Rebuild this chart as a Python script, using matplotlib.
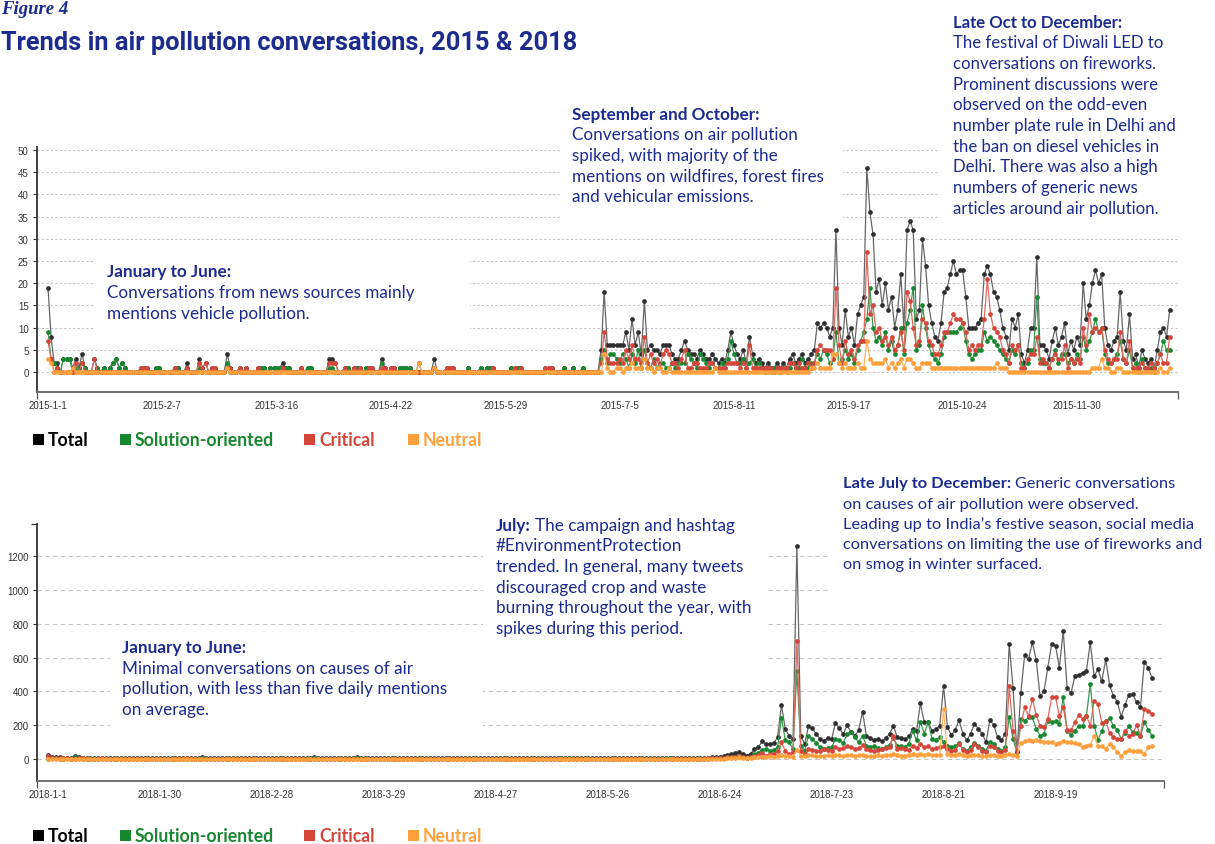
import pandas as pd
import matplotlib
matplotlib.use('Agg')
import matplotlib.pyplot as plt
from matplotlib.patches import Rectangle

W, H = 1215, 845
NAVY = '#1b2b8e'
BODY_FONT = 'Lato'

# ---------------- 2015 daily mentions (from 2015-01-01) ----------------
total_2015 = [
    19, 8, 2, 2, 0, 3, 3, 3, 1, 3, 1, 4, 1, 0, 0, 3, 1, 0, 1, 0, 1, 2, 3, 1, 2, 1, 0, 0, 0, 0,
    1, 1, 1, 0, 0, 1, 1, 0, 0, 0, 0, 1, 1, 0, 0, 2, 0, 0, 0, 3, 1, 2, 0, 1, 1, 0, 0, 0, 4, 1,
    0, 0, 1, 0, 1, 0, 0, 0, 1, 1, 1, 0, 1, 1, 1, 1, 2, 1, 1, 0, 0, 0, 1, 0, 1, 1, 0, 0, 0, 0,
    0, 3, 3, 2, 0, 0, 1, 1, 0, 1, 1, 1, 0, 1, 1, 1, 0, 0, 3, 1, 0, 1, 1, 0, 1, 1, 1, 1, 0, 0,
    2, 0, 0, 0, 0, 3, 0, 0, 0, 1, 1, 1, 0, 0, 0, 0, 1, 0, 0, 0, 1, 0, 1, 1, 1, 0, 0, 0, 0, 0,
    1, 1, 1, 1, 0, 0, 0, 0, 0, 0, 0, 1, 1, 1, 0, 0, 0, 1, 0, 0, 1, 0, 0, 1, 0, 0, 0, 0, 0,
    5, 18, 6, 6, 6, 6, 6, 6, 9, 5,
    12, 6, 9, 4, 16, 5, 6, 5, 5, 4,
    6, 6, 6, 4, 3, 3, 5, 7, 5, 4,
    4, 3, 5, 4, 3, 3, 4, 3, 2, 3,
    2, 5, 9, 6, 4, 3, 5, 2, 8, 4,
    2, 3, 2, 1, 2, 1, 1, 2, 1, 2,
    1, 3, 4, 2, 3, 4, 2, 3, 4, 5,
    11, 10, 11, 10, 8, 10, 32, 10, 6, 14,
    8, 10, 6, 13, 15, 17, 46, 36, 31, 18,
    21, 15, 20, 14, 17, 10, 14, 22, 10, 32,
    34, 32, 12, 14, 30, 24, 15, 11, 8, 7,
    11, 18, 19, 22, 25, 22, 23, 23, 17, 10,
    10, 10, 11, 12, 22, 24, 22, 18, 17, 14,
    10, 8, 5, 12, 10, 13, 4, 2, 5, 10,
    10, 26, 6, 6, 5, 3, 7, 10, 6, 8,
    11, 4, 7, 5, 8, 6, 20, 12, 15, 20,
    23, 20, 22, 10, 6, 5, 7, 8, 18, 7,
    5, 13, 3, 4, 1, 5, 3, 2, 3, 1,
    5, 9, 10, 8, 14,
]
solution_2015 = [
    9, 3, 2, 1, 0, 3, 3, 3, 0, 1, 1, 2, 1, 0, 0, 0, 1, 0, 1, 0, 1, 2, 3, 1, 2, 1, 0, 0, 0, 0,
    0, 0, 0, 0, 0, 1, 1, 0, 0, 0, 0, 0, 1, 0, 0, 1, 0, 0, 0, 1, 0, 0, 0, 0, 0, 0, 0, 0, 2, 0,
    0, 0, 0, 0, 0, 0, 0, 0, 0, 1, 1, 0, 1, 1, 1, 1, 1, 1, 1, 0, 0, 0, 0, 0, 1, 1, 0, 0, 0, 0,
    0, 1, 1, 0, 0, 0, 0, 1, 0, 0, 1, 0, 0, 1, 0, 0, 0, 0, 2, 0, 0, 0, 0, 0, 1, 1, 1, 1, 0, 0,
    0, 0, 0, 0, 0, 1, 0, 0, 0, 0, 0, 0, 0, 0, 0, 0, 1, 0, 0, 0, 1, 0, 1, 1, 0, 0, 0, 0, 0, 0,
    1, 0, 1, 0, 0, 0, 0, 0, 0, 0, 0, 0, 0, 0, 0, 0, 0, 1, 0, 0, 1, 0, 0, 1, 0, 0, 0, 0, 0,
    3, 5, 2, 4, 4, 3, 2, 4, 3, 1,
    4, 2, 5, 1, 5, 2, 1, 3, 1, 2,
    2, 1, 1, 2, 1, 2, 2, 2, 4, 3,
    2, 1, 4, 3, 2, 1, 2, 1, 1, 2,
    1, 3, 7, 4, 2, 2, 3, 1, 2, 3,
    1, 2, 1, 0, 1, 0, 1, 1, 0, 1,
    0, 1, 2, 1, 1, 3, 1, 1, 2, 2,
    4, 3, 5, 4, 2, 3, 9, 2, 3, 5,
    3, 4, 2, 5, 7, 9, 12, 19, 10, 7,
    8, 6, 9, 5, 7, 4, 6, 10, 4, 11,
    14, 19, 5, 6, 15, 10, 6, 4, 3, 2,
    4, 8, 9, 9, 9, 9, 10, 11, 7, 4,
    3, 4, 5, 5, 9, 7, 8, 7, 6, 5,
    4, 3, 2, 5, 4, 6, 2, 1, 2, 5,
    5, 17, 3, 2, 2, 1, 3, 5, 2, 4,
    4, 2, 3, 2, 4, 3, 8, 5, 7, 9,
    12, 9, 10, 4, 2, 2, 3, 4, 7, 3,
    2, 5, 1, 2, 0, 3, 1, 1, 1, 0,
    2, 4, 7, 5, 5,
]
critical_2015 = [
    7, 3, 0, 1, 0, 0, 0, 0, 0, 2, 0, 2, 0, 0, 0, 3, 0, 0, 0, 0, 0, 0, 0, 0, 0, 0, 0, 0, 0, 0,
    1, 1, 1, 0, 0, 0, 0, 0, 0, 0, 0, 1, 0, 0, 0, 1, 0, 0, 0, 2, 1, 2, 0, 1, 1, 0, 0, 0, 1, 1,
    0, 0, 1, 0, 1, 0, 0, 0, 1, 0, 0, 0, 0, 0, 0, 0, 1, 0, 0, 0, 0, 0, 1, 0, 0, 0, 0, 0, 0, 0,
    0, 2, 2, 2, 0, 0, 1, 0, 0, 1, 0, 1, 0, 0, 1, 1, 0, 0, 1, 1, 0, 1, 1, 0, 0, 0, 0, 0, 0, 0,
    0, 0, 0, 0, 0, 1, 0, 0, 0, 1, 1, 1, 0, 0, 0, 0, 0, 0, 0, 0, 0, 0, 0, 0, 1, 0, 0, 0, 0, 0,
    0, 1, 0, 1, 0, 0, 0, 0, 0, 0, 0, 1, 1, 1, 0, 0, 0, 0, 0, 0, 0, 0, 0, 0, 0, 0, 0, 0, 0,
    2, 9, 3, 2, 2, 2, 3, 2, 5, 3,
    6, 3, 3, 2, 8, 2, 4, 2, 3, 1,
    4, 5, 4, 2, 2, 1, 3, 5, 1, 1,
    2, 2, 1, 1, 1, 2, 2, 1, 1, 1,
    1, 2, 2, 2, 2, 1, 2, 1, 6, 1,
    1, 1, 1, 1, 1, 1, 0, 1, 1, 1,
    1, 2, 2, 1, 2, 1, 1, 2, 1, 2,
    5, 6, 5, 5, 5, 3, 19, 6, 2, 7,
    4, 5, 3, 6, 7, 7, 27, 13, 15, 9,
    10, 7, 8, 6, 8, 5, 6, 9, 5, 18,
    16, 10, 6, 7, 12, 11, 7, 6, 4, 4,
    6, 9, 9, 11, 13, 12, 12, 11, 9, 5,
    6, 5, 6, 6, 12, 21, 13, 10, 9, 8,
    5, 4, 2, 6, 5, 6, 1, 1, 3, 4,
    4, 8, 2, 3, 2, 1, 3, 4, 3, 3,
    6, 1, 3, 2, 3, 2, 10, 6, 13, 9,
    10, 9, 10, 5, 3, 2, 3, 3, 9, 3,
    2, 7, 1, 1, 1, 2, 1, 1, 2, 1,
    2, 4, 2, 2, 8,
]
neutral_2015 = [
    3, 2, 0, 0, 0, 0, 0, 0, 1, 0, 0, 0, 0, 0, 0, 0, 0, 0, 0, 0, 0, 0, 0, 0, 0, 0, 0, 0, 0, 0,
    0, 0, 0, 0, 0, 0, 0, 0, 0, 0, 0, 0, 0, 0, 0, 0, 0, 0, 0, 0, 0, 0, 0, 0, 0, 0, 0, 0, 1, 0,
    0, 0, 0, 0, 0, 0, 0, 0, 0, 0, 0, 0, 0, 0, 0, 0, 0, 0, 0, 0, 0, 0, 0, 0, 0, 0, 0, 0, 0, 0,
    0, 0, 0, 0, 0, 0, 0, 0, 0, 0, 0, 0, 0, 0, 0, 0, 0, 0, 0, 0, 0, 0, 0, 0, 0, 0, 0, 0, 0, 0,
    2, 0, 0, 0, 0, 1, 0, 0, 0, 0, 0, 0, 0, 0, 0, 0, 0, 0, 0, 0, 0, 0, 0, 0, 0, 0, 0, 0, 0, 0,
    0, 0, 0, 0, 0, 0, 0, 0, 0, 0, 0, 0, 0, 0, 0, 0, 0, 0, 0, 0, 0, 0, 0, 0, 0, 0, 0, 0, 0,
    0, 4, 1, 0, 0, 1, 1, 0, 1, 1,
    2, 1, 1, 1, 3, 1, 1, 0, 1, 1,
    0, 0, 1, 0, 0, 0, 0, 0, 0, 0,
    0, 0, 0, 0, 0, 0, 0, 1, 0, 0,
    0, 0, 0, 0, 0, 0, 0, 0, 0, 0,
    0, 0, 0, 0, 0, 0, 0, 0, 0, 0,
    0, 0, 0, 0, 0, 0, 0, 0, 1, 1,
    2, 1, 1, 1, 1, 4, 4, 2, 1, 2,
    1, 1, 1, 2, 1, 1, 7, 3, 2, 2,
    2, 2, 3, 1, 2, 1, 2, 3, 1, 3,
    3, 2, 1, 1, 2, 2, 2, 1, 1, 1,
    1, 1, 1, 1, 1, 1, 1, 1, 1, 1,
    1, 1, 1, 1, 1, 1, 1, 1, 2, 1,
    1, 1, 0, 0, 0, 0, 0, 0, 0, 0,
    0, 0, 0, 0, 0, 0, 0, 0, 0, 0,
    0, 0, 0, 0, 0, 0, 0, 0, 0, 1,
    1, 1, 3, 1, 1, 0, 0, 1, 1, 0,
    0, 0, 0, 0, 0, 0, 0, 0, 0, 0,
    0, 1, 0, 0, 1,
]

# ---------------- 2018 daily mentions (from 2018-01-01) ----------------
total_2018 = [
    25, 14, 12, 10, 8, 9, 7, 16, 10, 8, 6, 7, 6, 5, 8, 6, 5, 6, 7, 6, 5, 6, 7, 5, 6, 7, 5, 6, 5, 6,
    6, 5, 7, 6, 5, 6, 8, 7, 6, 5, 12, 6, 5, 6, 7, 6, 5, 4, 6, 7, 5, 6, 5, 7, 6, 5, 6, 7, 6, 5,
    5, 6, 7, 6, 5, 6, 5, 7, 6, 12, 6, 5, 6, 7, 6, 5, 6, 5, 6, 7, 10, 6, 5, 6, 5, 6, 7, 5, 6, 5,
    6, 5, 7, 6, 5, 6, 5, 6, 7, 6, 5, 6, 5, 6, 7, 6, 5, 6, 5, 7, 6, 5, 6, 5, 6, 7, 6, 5, 6, 5,
    6, 5, 6, 7, 5, 6, 5, 6, 7, 6, 5, 6, 5, 6, 8, 6, 5, 6, 5, 7, 6, 5, 6, 5, 6, 7, 6, 5, 6, 5,
    6, 7, 6, 5, 6, 5, 6, 7, 6, 5, 6, 8, 6, 5, 6, 7, 6, 5, 6, 7, 6, 8, 10, 12, 15, 18, 25, 30,
    35, 43, 30, 20, 30, 59, 70, 104, 89, 89,
    95, 128, 319, 177, 138, 118, 1260, 138, 89, 193,
    181, 148, 118, 108, 125, 118, 213, 181, 148, 201,
    158, 138, 170, 280, 138, 122, 114, 120, 108, 122,
    148, 197, 128, 125, 118, 134, 177, 167, 329, 217,
    221, 167, 177, 197, 430, 190, 140, 170, 230, 150,
    110, 150, 210, 180, 150, 100, 230, 200, 130, 110,
    150, 680, 420, 40, 390, 615, 590, 690, 585, 370,
    400, 540, 680, 670, 540, 760, 420, 390, 490, 500,
    510, 520, 690, 490, 530, 460, 590, 440, 370, 340,
    250, 320, 380, 385, 335, 305, 575, 540, 480,
]
solution_2018 = [
    3, 4, 4, 3, 3, 4, 3, 12, 4, 3, 2, 3, 2, 2, 3, 2, 2, 3, 3, 2, 2, 3, 3, 2, 2, 3, 2, 3, 2, 2,
    2, 2, 3, 2, 2, 2, 3, 3, 2, 2, 8, 2, 2, 2, 3, 2, 2, 1, 2, 3, 2, 2, 2, 3, 2, 2, 2, 3, 2, 2,
    2, 2, 3, 2, 2, 2, 2, 3, 2, 8, 2, 2, 2, 3, 2, 2, 2, 2, 2, 3, 6, 2, 2, 2, 2, 2, 3, 2, 2, 2,
    2, 2, 3, 2, 2, 2, 2, 2, 3, 2, 2, 2, 2, 2, 3, 2, 2, 2, 2, 3, 2, 2, 2, 2, 2, 3, 2, 2, 2, 2,
    2, 2, 2, 3, 2, 2, 2, 2, 3, 2, 2, 2, 2, 2, 4, 2, 2, 2, 2, 3, 2, 2, 2, 2, 2, 3, 2, 2, 2, 2,
    2, 3, 2, 2, 2, 2, 2, 3, 2, 2, 2, 4, 2, 2, 2, 3, 2, 2, 2, 3, 2, 3, 4, 5, 6, 8, 10, 12,
    15, 20, 12, 8, 15, 30, 35, 55, 60, 50,
    55, 70, 245, 110, 98, 60, 522, 79, 50, 138,
    118, 95, 70, 60, 65, 70, 118, 110, 95, 148,
    158, 128, 100, 138, 80, 70, 75, 65, 60, 70,
    85, 125, 80, 75, 70, 90, 167, 110, 221, 150,
    217, 120, 115, 130, 100, 80, 70, 75, 95, 60,
    50, 70, 95, 80, 60, 50, 100, 90, 60, 45,
    70, 246, 118, 40, 236, 227, 246, 246, 177, 138,
    148, 227, 217, 227, 207, 365, 167, 142, 167, 197,
    197, 256, 443, 197, 114, 167, 227, 240, 197, 173,
    118, 154, 197, 158, 154, 134, 221, 173, 138,
]
critical_2018 = [
    20, 7, 6, 5, 4, 4, 3, 3, 5, 4, 3, 3, 3, 2, 4, 3, 2, 2, 3, 3, 2, 2, 3, 2, 3, 3, 2, 2, 2, 3,
    3, 2, 3, 3, 2, 3, 4, 3, 3, 2, 3, 3, 2, 3, 3, 3, 2, 2, 3, 3, 2, 3, 2, 3, 3, 2, 3, 3, 3, 2,
    2, 3, 3, 3, 2, 3, 2, 3, 3, 3, 3, 2, 3, 3, 3, 2, 3, 2, 3, 3, 3, 3, 2, 3, 2, 3, 3, 2, 3, 2,
    3, 2, 3, 3, 2, 3, 2, 3, 3, 3, 2, 3, 2, 3, 3, 3, 2, 3, 2, 3, 3, 2, 3, 2, 3, 3, 3, 2, 3, 2,
    3, 2, 3, 3, 2, 3, 2, 3, 3, 3, 2, 3, 2, 3, 3, 3, 2, 3, 2, 3, 3, 2, 3, 2, 3, 3, 3, 2, 3, 2,
    3, 3, 3, 2, 3, 2, 3, 3, 3, 2, 3, 3, 3, 2, 3, 3, 3, 2, 3, 3, 3, 4, 5, 6, 7, 8, 12, 14,
    15, 18, 12, 9, 12, 20, 25, 35, 20, 30,
    28, 45, 98, 50, 30, 40, 699, 45, 30, 60,
    55, 50, 45, 60, 55, 50, 69, 60, 65, 75,
    70, 60, 65, 83, 60, 55, 50, 55, 60, 65,
    70, 134, 60, 65, 60, 55, 75, 65, 90, 70,
    75, 60, 65, 70, 80, 60, 50, 55, 90, 55,
    40, 55, 90, 70, 50, 40, 80, 70, 45, 40,
    55, 430, 167, 50, 197, 305, 256, 355, 260, 197,
    187, 236, 365, 368, 256, 305, 173, 173, 217, 260,
    236, 256, 197, 345, 325, 213, 227, 154, 128, 118,
    118, 167, 138, 148, 201, 138, 295, 286, 266,
]
neutral_2018 = [
    2, 3, 2, 2, 1, 1, 1, 1, 1, 1, 1, 1, 1, 1, 1, 1, 1, 1, 1, 1, 1, 1, 1, 1, 1, 1, 1, 1, 1, 1,
    1, 1, 1, 1, 1, 1, 1, 1, 1, 1, 1, 1, 1, 1, 1, 1, 1, 1, 1, 1, 1, 1, 1, 1, 1, 1, 1, 1, 1, 1,
    1, 1, 1, 1, 1, 1, 1, 1, 1, 1, 1, 1, 1, 1, 1, 1, 1, 1, 1, 1, 1, 1, 1, 1, 1, 1, 1, 1, 1, 1,
    1, 1, 1, 1, 1, 1, 1, 1, 1, 1, 1, 1, 1, 1, 1, 1, 1, 1, 1, 1, 1, 1, 1, 1, 1, 1, 1, 1, 1, 1,
    1, 1, 1, 1, 1, 1, 1, 1, 1, 1, 1, 1, 1, 1, 1, 1, 1, 1, 1, 1, 1, 1, 1, 1, 1, 1, 1, 1, 1, 1,
    1, 1, 1, 1, 1, 1, 1, 1, 1, 1, 1, 1, 1, 1, 1, 1, 1, 1, 1, 1, 1, 1, 2, 2, 3, 3, 4, 5,
    8, 10, 8, 6, 8, 12, 12, 15, 15, 18,
    15, 18, 25, 20, 18, 15, 55, 20, 18, 25,
    22, 20, 18, 20, 22, 20, 25, 22, 20, 25,
    22, 20, 22, 25, 20, 18, 20, 22, 20, 22,
    25, 30, 22, 20, 18, 22, 28, 25, 30, 25,
    28, 22, 25, 25, 295, 30, 25, 22, 30, 25,
    20, 22, 25, 22, 20, 18, 25, 22, 20, 18,
    22, 30, 25, 20, 95, 104, 110, 108, 115, 108,
    98, 100, 98, 89, 95, 108, 100, 98, 95, 90,
    69, 80, 85, 138, 79, 75, 59, 89, 70, 40,
    20, 40, 55, 49, 49, 45, 30, 69, 79,
]

series_names = ['Total', 'Solution-oriented', 'Critical', 'Neutral']
marker_colors = ['#2e2e2e', '#17882f', '#d5453a', '#ffa03c']
line_colors = ['#666666', '#3a9a4e', '#dd6a60', '#ffb261']

ticks_2015 = pd.date_range('2015-01-01', periods=10, freq='37D')
ticks_2018 = pd.date_range('2018-01-01', periods=10, freq='29D')


def fx(x):
    return x / W


def fy(y):
    return 1 - y / H


fig = plt.figure(figsize=(W / 100, H / 100), dpi=100)


def setup_axes(rect, start, values, ticks, xpad, ylim, yticks, dash):
    ax = fig.add_axes(rect)
    dates = pd.date_range(start, periods=len(values[0]))
    for i, vals in enumerate(values):
        ax.plot(pd.date_range(start, periods=len(vals)), vals, color=line_colors[i], lw=0.9,
                marker='o', ms=3.4, mfc=marker_colors[i], mec=marker_colors[i], mew=0,
                zorder=2 + i)
    t0 = dates[0]
    ax.set_xlim(t0 + pd.Timedelta(days=xpad[0]), t0 + pd.Timedelta(days=xpad[1]))
    ax.set_ylim(*ylim)
    ax.set_xticks(ticks)
    ax.set_xticklabels([f'{d.year}-{d.month}-{d.day}' for d in ticks],
                       fontsize=7, color='#333333', family='Liberation Sans')
    ax.set_yticks(yticks)
    ax.set_yticklabels([str(v) for v in yticks], fontsize=7, color='#333333',
                       family='Liberation Sans')
    ax.tick_params(axis='x', length=0, pad=6)
    ax.tick_params(axis='y', length=3, width=0.8, color='#333333', pad=3)
    ax.set_xticks([ax.get_xlim()[0], ax.get_xlim()[1]], minor=True)
    ax.tick_params(axis='x', which='minor', length=5, width=0.9, color='#555555')
    for s in ['top', 'right']:
        ax.spines[s].set_visible(False)
    ax.spines['left'].set_color('#333333')
    ax.spines['left'].set_linewidth(1.3)
    ax.spines['bottom'].set_color('#666666')
    ax.spines['bottom'].set_linewidth(1.3)
    ax.set_axisbelow(True)
    ax.grid(axis='y', color='#c4c4c4', linestyle=dash, linewidth=0.8)
    ax.patch.set_alpha(0)
    return ax


ax1 = setup_axes([fx(37), fy(393), fx(1178 - 37), (393 - 148) / H], '2015-01-01',
                 [total_2015, solution_2015, critical_2015, neutral_2015], ticks_2015,
                 (-3.56, 365.7), (-4.5, 50.7), list(range(0, 51, 5)), (0, (2, 2)))
ax2 = setup_axes([fx(37), fy(781.7), fx(1164 - 37), (781.7 - 525) / H], '2018-01-01',
                 [total_2018, solution_2018, critical_2018, neutral_2018], ticks_2018,
                 (-2.85, 289.1), (-128, 1390), list(range(0, 1201, 200)), (0, (4, 3)))
ax2.set_yticks([1390], minor=True)
ax2.tick_params(axis='y', which='minor', length=4, width=0.9, color='#333333')


# white panels behind the notes (they hide the grid there)
def blank(ax, x0, y0, x1, y1):
    ax.add_patch(Rectangle((fx(x0), fy(y1)), fx(x1 - x0), (y1 - y0) / H,
                           transform=fig.transFigure, facecolor='white',
                           edgecolor='none', zorder=1))


blank(ax1, 95, 253, 470, 342)
blank(ax1, 560, 100, 843, 228)
blank(ax1, 940, 0, 1215, 230)
blank(ax2, 830, 470, 1215, 605)
blank(ax2, 483, 510, 767, 670)
blank(ax2, 110, 640, 483, 740)

# header
fig.text(fx(1), fy(14), 'Figure 4', fontsize=13.5, color=NAVY, style='italic',
         weight='bold', family='Liberation Serif', va='baseline')
fig.text(fx(1), fy(50), 'Trends in air pollution conversations, 2015 & 2018',
         fontsize=18.3, color=NAVY, weight='bold', family='Roboto', va='baseline')

renderer = fig.canvas.get_renderer()


def note(x, y, head, lines, inline=None, step=20.5, size=12.3):
    t = fig.text(fx(x), fy(y), head, fontsize=size, color=NAVY, weight='bold',
                 family=BODY_FONT, va='baseline')
    if inline is not None:
        bb = t.get_window_extent(renderer)
        fig.text((bb.x1 + 4) / W, fy(y), inline, fontsize=size, color=NAVY,
                 family=BODY_FONT, va='baseline')
    for k, line in enumerate(lines):
        fig.text(fx(x), fy(y + step * (k + 1)), line, fontsize=size, color=NAVY,
                 family=BODY_FONT, va='baseline')


note(107, 277.5, 'January to June:',
     ['Conversations from news sources mainly', 'mentions vehicle pollution.'])
note(572, 120, 'September and October:',
     ['Conversations on air pollution', 'spiked, with majority of the',
      'mentions on wildfires, forest fires', 'and vehicular emissions.'])
note(953, 27.5, 'Late Oct to December:',
     ['The festival of Diwali LED to', 'conversations on fireworks.',
      'Prominent discussions were', 'observed on the odd-even',
      'number plate rule in Delhi and', 'the ban on diesel vehicles in',
      'Delhi. There was also a high', 'numbers of generic news',
      'articles around air pollution.'], step=20.7, size=12.1)
note(843, 488.3, 'Late July to December:',
     ['on causes of air pollution were observed.',
      'Leading up to India\u2019s festive season, social media',
      'conversations on limiting the use of fireworks and',
      'on smog in winter surfaced.'], inline='Generic conversations', step=20.3,
     size=11.8)
note(496, 530.7, 'July:',
     ['#EnvironmentProtection', 'trended. In general, many tweets',
      'discouraged crop and waste', 'burning throughout the year, with',
      'spikes during this period.'], inline='The campaign and hashtag', step=20.6)
note(122, 653.3, 'January to June:',
     ['Minimal conversations on causes of air',
      'pollution, with less than five daily mentions', 'on average.'], step=20.6)


# legends
def legend(y_base):
    xs_box = [32.5, 119.5, 303.5, 407.5]
    xs_txt = [47.5, 134.5, 319, 423]
    for name, c, xb, xt in zip(series_names, marker_colors, xs_box, xs_txt):
        col = '#000000' if name == 'Total' else c
        fig.patches.append(Rectangle((fx(xb), fy(y_base)), fx(11.5), 11.5 / H,
                                     transform=fig.transFigure, facecolor=col,
                                     edgecolor='none'))
        fig.text(fx(xt), fy(y_base), name, fontsize=12.7, weight='bold', color=col,
                 family=BODY_FONT, va='baseline')


legend(446)
legend(842)

fig.savefig('out.png', dpi=100)
